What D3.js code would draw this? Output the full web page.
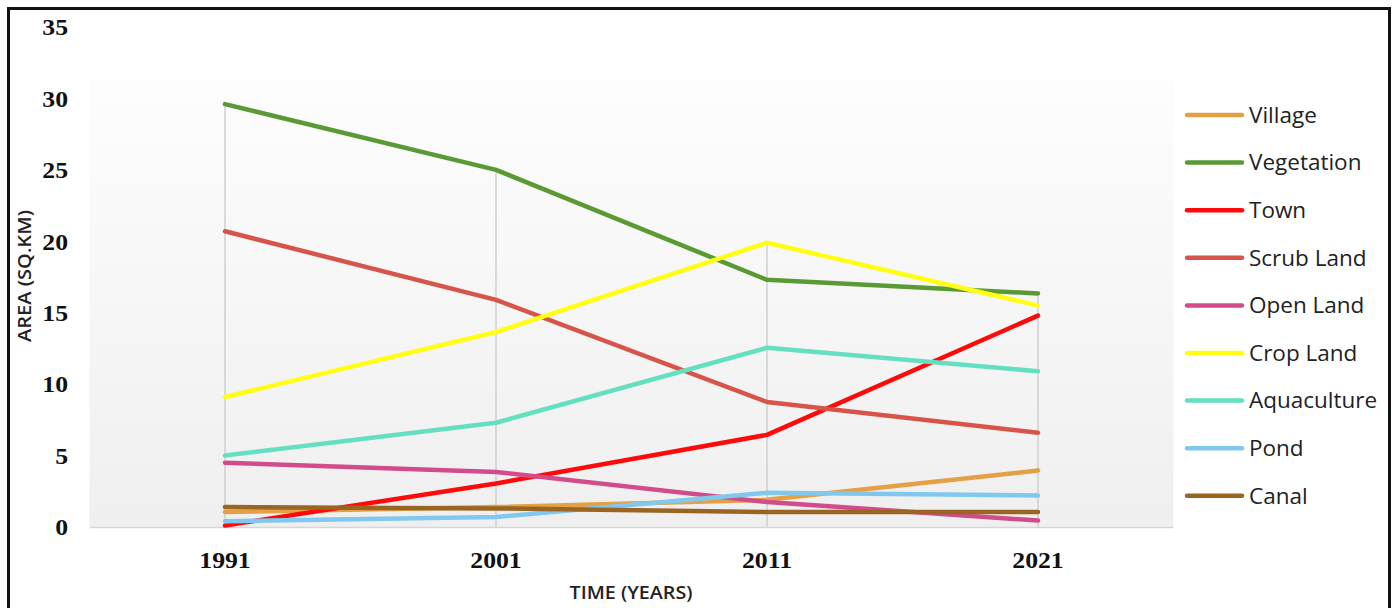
<!DOCTYPE html>
<html>
<head>
<meta charset="utf-8">
<script src="https://cdn.jsdelivr.net/npm/d3@7"></script>
<style>
  html, body { margin: 0; padding: 0; background: #fff; }
  svg { display: block; }
</style>
</head>
<body>
<svg id="chart" width="1396" height="608"></svg>
<script>
const years = ["1991", "2001", "2011", "2021"];
const yTicks = [0, 5, 10, 15, 20, 25, 30, 35];
const seriesNames = ["Village", "Vegetation", "Town", "Scrub Land", "Open Land", "Crop Land", "Aquaculture", "Pond", "Canal"];
const seriesColors = ["#E3A045", "#5A9A34", "#FF0A0A", "#D6544A", "#D24C8C", "#FFFF14", "#64E0C0", "#80C8EE", "#9A6422"];
const village     = [1.05, 1.4, 1.9, 3.95];
const vegetation  = [29.6, 25.0, 17.3, 16.35];
const town        = [0.1, 3.05, 6.45, 14.8];
const scrubLand   = [20.7, 15.9, 8.75, 6.6];
const openLand    = [4.5, 3.85, 1.75, 0.45];
const cropLand    = [9.1, 13.65, 19.9, 15.5];
const aquaculture = [5.0, 7.3, 12.55, 10.9];
const pond        = [0.4, 0.7, 2.4, 2.2];
const canal       = [1.4, 1.3, 1.05, 1.05];
const seriesValues = [village, vegetation, town, scrubLand, openLand, cropLand, aquaculture, pond, canal];

const svg = d3.select("#chart");

// outer frame
svg.append("rect").attr("x", 8.5).attr("y", 8.5).attr("width", 1381).attr("height", 610)
  .attr("fill", "#fff").attr("stroke", "#111").attr("stroke-width", 3);

const plot = { left: 89.5, right: 1173.5, top: 80, bottom: 527 };
const x = d3.scaleBand().domain(years).range([plot.left, plot.right]);
const y = d3.scaleLinear().domain([0, 35]).range([527, 27]);
const cx = d => x(d) + x.bandwidth() / 2;

// plot area background gradient
const defs = svg.append("defs");
const grad = defs.append("linearGradient").attr("id", "bg").attr("x1", 0).attr("y1", 0).attr("x2", 0).attr("y2", 1);
grad.append("stop").attr("offset", "0%").attr("stop-color", "#fdfdfd");
grad.append("stop").attr("offset", "100%").attr("stop-color", "#efefef");
svg.append("rect").attr("x", plot.left).attr("y", plot.top)
  .attr("width", plot.right - plot.left).attr("height", plot.bottom - plot.top)
  .attr("fill", "url(#bg)");

// baseline
svg.append("line").attr("x1", plot.left).attr("x2", plot.right)
  .attr("y1", y(0) + 0.5).attr("y2", y(0) + 0.5)
  .attr("stroke", "#d6d6d6").attr("stroke-width", 1.5);

// drop lines
years.forEach((yr, i) => {
  const mx = d3.max(seriesValues, s => s[i]);
  svg.append("line").attr("x1", cx(yr)).attr("x2", cx(yr))
    .attr("y1", y(mx)).attr("y2", y(0))
    .attr("stroke", "#cfcfcf").attr("stroke-width", 1.5);
});

// y axis labels
const yAxis = d3.axisLeft(y).tickValues(yTicks).tickSize(0).tickPadding(0);
const gy = svg.append("g").attr("transform", "translate(68,0)").call(yAxis);
gy.select(".domain").remove();
gy.selectAll("text").attr("font-family", "'Liberation Serif', 'Times New Roman', serif")
  .attr("font-weight", "bold").attr("font-size", "23px").attr("fill", "#111").attr("dy", "0.34em")
  .attr("transform", "scale(1.12,1)");

// x axis labels
const xAxis = d3.axisBottom(x).tickSize(0).tickPadding(0);
const gx = svg.append("g").attr("transform", "translate(0,552)").call(xAxis);
gx.select(".domain").remove();
gx.selectAll("text").attr("font-family", "'Liberation Serif', 'Times New Roman', serif")
  .attr("font-weight", "bold").attr("font-size", "23px").attr("fill", "#111").attr("dy", "0.71em")
  .attr("transform", "scale(1.12,1)");

// axis titles
svg.append("text").attr("x", 631).attr("y", 599).attr("text-anchor", "middle")
  .attr("font-family", "'Open Sans', sans-serif").attr("font-size", "18px").attr("font-weight", 600)
  .attr("fill", "#222").attr("textLength", 123).attr("lengthAdjust", "spacingAndGlyphs")
  .text("TIME (YEARS)");
svg.append("text").attr("transform", "translate(31,276) rotate(-90)").attr("text-anchor", "middle")
  .attr("font-family", "'Open Sans', sans-serif").attr("font-size", "18px").attr("font-weight", 600)
  .attr("fill", "#222").attr("textLength", 132).attr("lengthAdjust", "spacingAndGlyphs")
  .text("AREA (SQ.KM)");

// lines
const line = d3.line().x((d, i) => cx(years[i])).y(d => y(d));
seriesValues.forEach((vals, k) => {
  svg.append("path").datum(vals).attr("d", line)
    .attr("fill", "none").attr("stroke", seriesColors[k]).attr("stroke-width", 4.5)
    .attr("stroke-linejoin", "round").attr("stroke-linecap", "round");
});

// legend
const lg = svg.append("g");
seriesNames.forEach((name, k) => {
  const ly = 115 + k * 47.6;
  lg.append("line").attr("x1", 1187).attr("x2", 1242).attr("y1", ly).attr("y2", ly)
    .attr("stroke", seriesColors[k]).attr("stroke-width", 4.5).attr("stroke-linecap", "round");
  lg.append("text").attr("x", 1249).attr("y", ly).attr("dy", "0.35em")
    .attr("font-family", "'Open Sans', sans-serif").attr("font-size", "22.5px")
    .attr("fill", "#222").text(name);
});
</script>
</body>
</html>
